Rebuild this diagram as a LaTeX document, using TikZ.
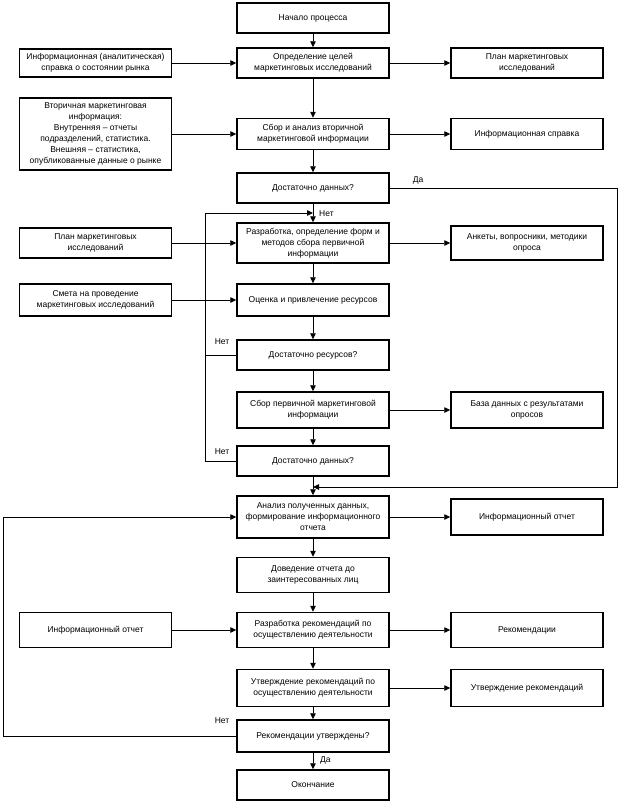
\documentclass[tikz,border=0pt]{standalone}
\usepackage{fontspec}
\setmainfont{Liberation Sans}
\usetikzlibrary{arrows.meta}

\tikzset{
  block/.style={draw, line width=1.5pt, minimum width=152pt, inner sep=1pt, align=center, font=\fontsize{8.5}{11}\selectfont},
  arr/.style={line width=0.8pt, -{Triangle[length=6pt,width=5.5pt]}},
  wire/.style={line width=0.8pt},
  lbl/.style={font=\fontsize{8.5}{10}\selectfont, inner sep=0pt}
}

\begin{document}
\begin{tikzpicture}[x=1pt, y=-1pt]
\useasboundingbox (0,0) rectangle (623,804);

\node[block, minimum height=30pt] (start) at (313, 18) {Начало процесса};

\node[block, minimum height=30pt] (goals) at (313, 63) {Определение целей\\маркетинговых исследований};
\node[block, minimum height=28pt] (market) at (95.5, 63) {Информационная (аналитическая)\\справка о состоянии рынка};
\node[block, minimum height=30pt] (plana) at (527, 63) {План маркетинговых\\исследований};

\node[block, minimum height=72pt] (secinfo) at (95.5, 134) {Вторичная маркетинговая\\информация:\\Внутренняя – отчеты\\подразделений, статистика.\\Внешняя – статистика,\\опубликованные данные о рынке};
\node[block, minimum height=31pt] (secan) at (313, 134) {Сбор и анализ вторичной\\маркетинговой информации};
\node[block, minimum height=31pt] (memo) at (527, 134) {Информационная справка};

\node[block, minimum height=30pt] (enougha) at (313, 188) {Достаточно данных?};

\node[block, minimum height=40pt] (design) at (313, 243) {Разработка, определение форм и\\методов сбора первичной\\информации};
\node[block, minimum height=30pt] (planb) at (95.5, 243) {План маркетинговых\\исследований};
\node[block, minimum height=34pt] (forms) at (527, 243) {Анкеты, вопросники, методики\\опроса};

\node[block, minimum height=32pt] (budget) at (95.5, 300) {Смета на проведение\\маркетинговых исследований};
\node[block, minimum height=32pt] (assess) at (313, 300) {Оценка и привлечение ресурсов};

\node[block, minimum height=30pt] (enoughres) at (313, 355) {Достаточно ресурсов?};

\node[block, minimum height=36pt] (collect) at (313, 410) {Сбор первичной маркетинговой\\информации};
\node[block, minimum height=36pt] (dbase) at (527, 410) {База данных с результатами\\опросов};

\node[block, minimum height=30pt] (enoughb) at (313, 461) {Достаточно данных?};

\node[block, minimum height=42pt] (analysis) at (313, 517) {Анализ полученных данных,\\формирование информационного\\отчета};
\node[block, minimum height=36pt] (report) at (527, 517) {Информационный отчет};

\node[block, minimum height=35pt] (deliver) at (313, 575) {Доведение отчета до\\заинтересованных лиц};

\node[block, minimum height=35pt] (reportb) at (95.5, 630) {Информационный отчет};
\node[block, minimum height=35pt] (recdev) at (313, 630) {Разработка рекомендаций по\\осуществлению деятельности};
\node[block, minimum height=35pt] (recs) at (527, 630) {Рекомендации};

\node[block, minimum height=37pt] (approve) at (313, 688) {Утверждение рекомендаций по\\осуществлению деятельности};
\node[block, minimum height=37pt] (approved) at (527, 688) {Утверждение рекомендаций};

\node[block, minimum height=32pt] (recsok) at (313, 736) {Рекомендации утверждены?};

\node[block, minimum height=30pt] (finish) at (313, 785) {Окончание};

\coordinate (yesturn) at (617, 188);
\coordinate (yesback) at (617, 487);
\coordinate (yesend) at (313, 487);
\coordinate (loopa) at (205, 355);
\coordinate (loopb) at (205, 461);
\coordinate (looptop) at (205, 213);
\coordinate (loopend) at (313, 213);
\coordinate (backlow) at (3, 736);
\coordinate (backtop) at (3, 517);

\draw[arr] (start) -- (goals);
\draw[arr] (goals) -- (secan);
\draw[arr] (secan) -- (enougha);
\draw[arr] (enougha) -- (design);
\draw[arr] (design) -- (assess);
\draw[arr] (assess) -- (enoughres);
\draw[arr] (enoughres) -- (collect);
\draw[arr] (collect) -- (enoughb);
\draw[arr] (enoughb) -- (analysis);
\draw[arr] (analysis) -- (deliver);
\draw[arr] (deliver) -- (recdev);
\draw[arr] (recdev) -- (approve);
\draw[arr] (approve) -- (recsok);
\draw[arr] (recsok) -- (finish);

\draw[arr] (market) -- (goals);
\draw[arr] (secinfo) -- (secan);
\draw[arr] (planb) -- (design);
\draw[arr] (budget) -- (assess);
\draw[arr] (reportb) -- (recdev);

\draw[arr] (goals) -- (plana);
\draw[arr] (secan) -- (memo);
\draw[arr] (design) -- (forms);
\draw[arr] (collect) -- (dbase);
\draw[arr] (analysis) -- (report);
\draw[arr] (recdev) -- (recs);
\draw[arr] (approve) -- (approved);

\draw[arr] (enougha.east) -- (yesturn) -- (yesback) -- (yesend);
\draw[wire] (enoughres.west) -- (loopa);
\draw[arr] (enoughb.west) -- (loopb) -- (looptop) -- (loopend);
\draw[arr] (recsok.west) -- (backlow) -- (backtop) -- (analysis.west);

\node[lbl] (yesa) at (418, 180) {Да};
\node[lbl, anchor=west] (noa) at (319, 214) {Нет};
\node[lbl] (nob) at (222, 342) {Нет};
\node[lbl] (noc) at (222, 452) {Нет};
\node[lbl] (nod) at (222, 721) {Нет};
\node[lbl, anchor=west] (yesb) at (320, 760) {Да};

\end{tikzpicture}
\end{document}
